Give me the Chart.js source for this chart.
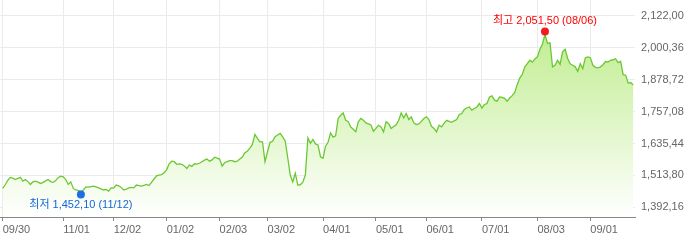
<!DOCTYPE html>
<html>
<head>
<meta charset="utf-8">
<script src="https://cdn.jsdelivr.net/npm/chart.js@4.4.0/dist/chart.umd.min.js"></script>
<style>
  html, body { margin: 0; padding: 0; background: #fff; }
  canvas { display: block; }
</style>
</head>
<body>
<canvas id="goldChart" width="700" height="243"></canvas>
<script>
// daily closing prices, 2019-09-30 .. 2020-09-25 (one value per trading day)
const prices = [
    // Oct
    1464, 1478, 1495, 1506, 1503, 1498, 1502, 1506, 1492, 1498,
    1490, 1479, 1489, 1492, 1488, 1483, 1487, 1493, 1498, 1490,
    1487, 1494, 1505, 1511,
    // Nov
    1508, 1498, 1479, 1489, 1464, 1458, 1456, 1452.1, 1458, 1470,
    1469, 1471, 1473, 1470, 1466, 1462, 1458, 1460, 1454, 1466,
    // Dec
    1465, 1477, 1474, 1468, 1458, 1461, 1466, 1468, 1466, 1477,
    1475, 1473, 1476, 1479, 1475, 1487, 1500, 1512, 1515, 1517,
    1524,
    // Jan
    1535, 1558, 1568, 1566, 1556, 1558, 1556, 1550, 1540, 1553,
    1548, 1558, 1557, 1560, 1566, 1572, 1576, 1568, 1573, 1583,
    1580,
    // Feb
    1576, 1549, 1562, 1566, 1570, 1570, 1566, 1568, 1576, 1584,
    1600, 1606, 1618, 1632, 1670, 1655, 1642, 1642, 1566,
    // Mar
    1604, 1640, 1644, 1661, 1668, 1674, 1661, 1645, 1582, 1515,
    1489, 1522, 1477, 1478, 1488, 1515, 1657, 1636, 1651, 1634,
    1630, 1585,
    // Apr
    1579, 1625, 1640, 1676, 1660, 1665, 1731, 1743, 1752, 1724,
    1719, 1698, 1690, 1680, 1718, 1731, 1724, 1714, 1710, 1706,
    1682,
    // May
    1693, 1705, 1699, 1680, 1718, 1712, 1693, 1700, 1707, 1724,
    1752, 1733, 1750, 1727, 1737, 1714, 1708, 1710, 1720, 1731,
    // Jun
    1737, 1727, 1701, 1693, 1680, 1705, 1699, 1712, 1724, 1720,
    1716, 1722, 1727, 1745, 1750, 1765, 1771, 1775, 1763, 1769,
    1775, 1788,
    // Jul
    1771, 1784, 1788, 1813, 1817, 1801, 1797, 1813, 1811, 1808,
    1797, 1809, 1818, 1830, 1860, 1885, 1899, 1928, 1940, 1953,
    1946, 1958,
    // Aug
    1966, 1995, 2015, 2051.5, 2017, 2020, 1928, 1934, 1953, 1938,
    1985, 1995, 1960, 1940, 1934, 1928, 1911, 1940, 1921, 1963,
    1966,
    // Sep
    1963, 1934, 1926, 1924, 1928, 1936, 1948, 1946, 1953, 1955,
    1959, 1944, 1949, 1898, 1896, 1866, 1868, 1859
];

// x axis: trading-day index of each labelled date
const tickIdx = [0, 24, 44, 65, 86, 105, 127, 148, 168, 190, 212, 233];
const tickLabels = ["09/30", "11/01", "12/02", "01/02", "02/03", "03/02",
                    "04/01", "05/01", "06/01", "07/01", "08/03", "09/01"];

// y axis ticks
const yTicks = [1392.16, 1513.80, 1635.44, 1757.08, 1878.72, 2000.36, 2122.00];

const highDate = "08/06";
const lowDate = "11/12";

function fmt(v) {
    // 1,234.56 -> 1,234,56 (as on the original chart)
    return v.toLocaleString("en-US", { minimumFractionDigits: 2, maximumFractionDigits: 2 }).replace(".", ",");
}

const highIdx = prices.indexOf(Math.max(...prices));
const lowIdx = prices.indexOf(Math.min(...prices));

const FONT = '"Liberation Sans", "Noto Sans CJK KR", sans-serif';

// no extra room for edge labels, the plot runs to the top of the canvas
function noPad(s) {
    s.paddingTop = 0;
    s.paddingBottom = 0;
    s.paddingLeft = 0;
    s.paddingRight = 0;
}

// min / max markers with labels
const markers = {
    id: "markers",
    afterDatasetsDraw(chart) {
        const pts = chart.getDatasetMeta(0).data;
        const c = chart.ctx;
        const list = [
            { i: highIdx, dir: -1, dot: "#f21c1c", col: "#ff0000", text: "최고 " + fmt(prices[highIdx]) + " (" + highDate + ")" },
            { i: lowIdx, dir: 1, dot: "#1c6fe0", col: "#1565d8", text: "최저 " + fmt(prices[lowIdx]) + " (" + lowDate + ")" }
        ];
        c.save();
        list.forEach(m => {
            const p = pts[m.i];
            c.beginPath();
            c.arc(p.x, p.y + m.dir * 3, 4, 0, Math.PI * 2);
            c.fillStyle = m.dot;
            c.fill();
            c.font = "11px " + FONT;
            c.fillStyle = m.col;
            c.textAlign = "center";
            c.textBaseline = "middle";
            c.fillText(m.text, p.x, p.y + m.dir * 13.5);
        });
        c.restore();
    }
};

new Chart(document.getElementById("goldChart"), {
    type: "line",
    data: {
        datasets: [{
            data: prices.map((v, i) => ({ x: i, y: v })),
            borderColor: "#6cc832",
            borderWidth: 1.3,
            pointRadius: 0,
            tension: 0,
            fill: "start",
            backgroundColor: (ctx) => {
                const area = ctx.chart.chartArea;
                if (!area) return "rgba(0,0,0,0)";
                const g = ctx.chart.ctx.createLinearGradient(0, area.top, 0, area.bottom);
                g.addColorStop(0, "#b6ea7e");
                g.addColorStop(1, "#ffffff");
                return g;
            }
        }]
    },
    options: {
        responsive: false,
        animation: false,
        devicePixelRatio: 1,
        events: [],
        layout: { padding: 0 },
        plugins: {
            legend: { display: false },
            tooltip: { enabled: false }
        },
        scales: {
            x: {
                type: "linear",
                min: -1.07,
                max: 250.7,
                afterBuildTicks: (s) => { s.ticks = tickIdx.map(v => ({ value: v })); },
                afterFit: (s) => { s.height = 26; noPad(s); },
                ticks: {
                    autoSkip: false,
                    maxRotation: 0,
                    align: "start",
                    padding: 2,
                    color: "#666",
                    font: { size: 11, family: FONT },
                    callback: (v, i) => tickLabels[i]
                },
                grid: { color: "#ebebeb", tickLength: 4, tickColor: "#888" },
                border: { color: "#888" }
            },
            y: {
                position: "right",
                min: 1355,
                max: 2183,
                afterBuildTicks: (s) => { s.ticks = yTicks.map(v => ({ value: v })); },
                afterFit: (s) => { s.width = 65; noPad(s); },
                ticks: {
                    padding: 6,
                    color: "#666",
                    font: { size: 11, family: FONT },
                    callback: (v) => fmt(v)
                },
                grid: { color: "#ebebeb", drawTicks: false },
                border: { display: false }
            }
        }
    },
    plugins: [markers]
});
</script>
</body>
</html>
